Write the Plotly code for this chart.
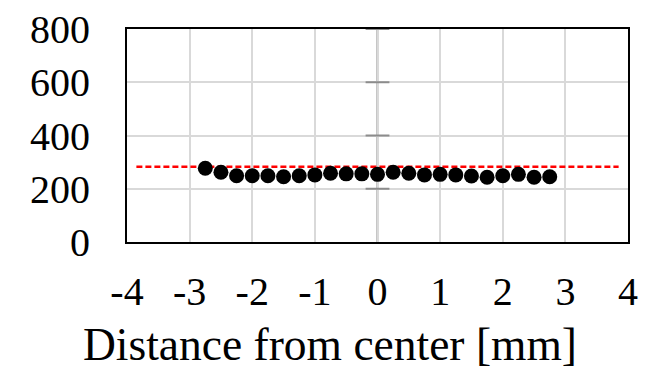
import plotly.graph_objects as go

# Data
distance_mm = [-2.75, -2.5, -2.25, -2.0, -1.75, -1.5, -1.25, -1.0, -0.75, -0.5, -0.25, 0.0,
               0.25, 0.5, 0.75, 1.0, 1.25, 1.5, 1.75, 2.0, 2.25, 2.5, 2.75]
values = [277, 262, 249, 249, 249, 245, 249, 252, 258, 256, 256, 254,
          262, 258, 252, 254, 252, 248, 243, 249, 254, 243, 245]
ref_x = [-3.85, 3.85]
ref_y = [283, 283]
x_ticks = [-4, -3, -2, -1, 0, 1, 2, 3, 4]
y_ticks = [0, 200, 400, 600, 800]
x_title = "Distance from center [mm]"

FONT = "Liberation Serif, Times New Roman, serif"

fig = go.Figure()
fig.add_trace(go.Scatter(x=ref_x, y=ref_y, mode="lines",
                         line=dict(color="#ff0000", width=2.5, dash="6px,3px"),
                         showlegend=False, hoverinfo="skip"))
fig.add_trace(go.Scatter(x=distance_mm, y=values, mode="markers",
                         marker=dict(color="black", size=15),
                         showlegend=False))

# vertical axis crossing at x=0 with cross tick marks
for yv in y_ticks[1:]:
    fig.add_shape(type="line", xref="x", yref="y", x0=-0.19, x1=0.19, y0=yv, y1=yv,
                  line=dict(color="#8c8c8c", width=2), layer="above")
fig.add_shape(type="line", xref="x", yref="y", x0=0, x1=0, y0=0, y1=800,
              line=dict(color="#8c8c8c", width=2), layer="below")

fig.add_annotation(text=x_title, xref="paper", yref="paper", x=(329.5 - 127) / 501, y=-0.479,
                   showarrow=False, yanchor="middle", xanchor="center",
                   font=dict(family=FONT, size=45.5, color="black"))

fig.update_layout(
    width=659, height=371,
    margin=dict(l=127, r=31, t=29, b=129, autoexpand=False),
    paper_bgcolor="white", plot_bgcolor="white",
    font=dict(family=FONT, size=40, color="black"),
    xaxis=dict(range=[-4, 4], tickvals=x_ticks, ticktext=[str(v) for v in x_ticks],
               showgrid=True, gridcolor="#d9d9d9", gridwidth=1.5, zeroline=False,
               showline=True, linecolor="black", linewidth=2, mirror=True,
               ticks="", ticklabelstandoff=13, automargin=False,
               tickfont=dict(family=FONT, size=40, color="black")),
    yaxis=dict(range=[0, 800], tickvals=y_ticks, ticktext=[str(v) for v in y_ticks],
               showgrid=True, gridcolor="#d9d9d9", gridwidth=1.5, zeroline=False,
               showline=True, linecolor="black", linewidth=2, mirror=True,
               ticks="", ticklabelstandoff=27, automargin=False,
               tickfont=dict(family=FONT, size=40, color="black")),
)

fig.write_html("out.html", config={"displayModeBar": False},
               post_script="document.body.style.margin='0';document.body.style.overflow='hidden';")
